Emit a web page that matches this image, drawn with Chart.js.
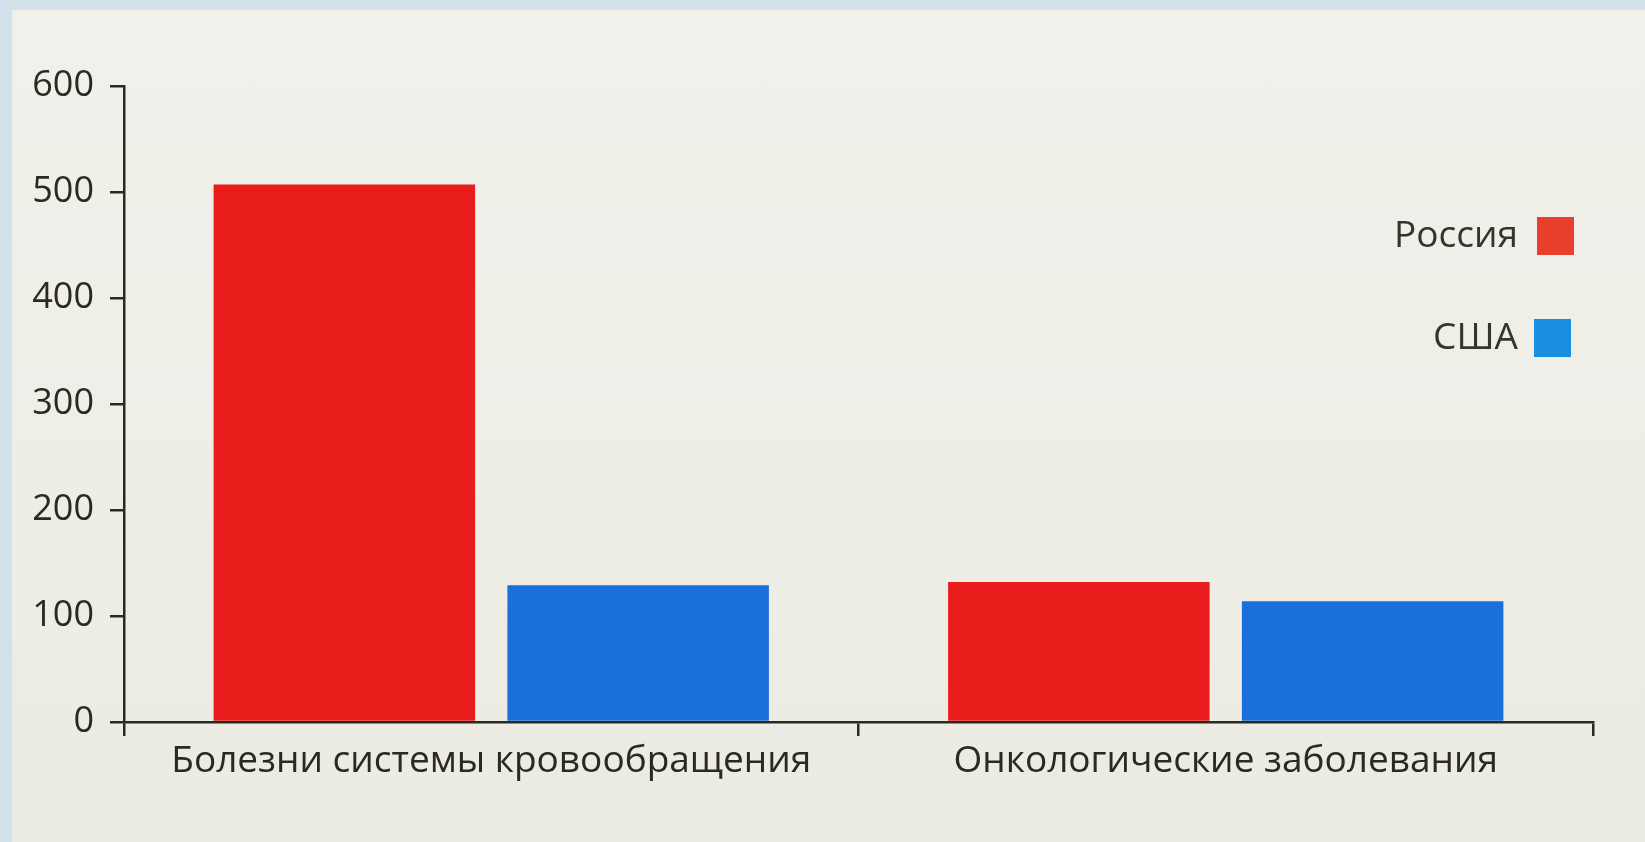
<!DOCTYPE html>
<html>
<head>
<meta charset="utf-8">
<script src="https://cdn.jsdelivr.net/npm/chart.js@4"></script>
<style>
  html, body { margin: 0; padding: 0; background: #d3e2ea; overflow: hidden; }
  #paper {
    position: absolute; left: 12px; top: 10px; width: 1633px; height: 832px;
    background: linear-gradient(180deg, #f1f0ea 0%, #eeede6 60%, #ebeae3 100%);
  }
  #wrap { position: absolute; left: 0; top: 0; width: 1645px; height: 842px; }
</style>
</head>
<body>
<div id="paper"></div>
<div id="wrap"><canvas id="chart" width="1645" height="842"></canvas></div>
<script>
// Categories and series
const categories = ['Болезни системы кровообращения', 'Онкологические заболевания'];
const russia = [507, 132];
const usa = [129, 114];
const yTicks = [0, 100, 200, 300, 400, 500, 600];

const INK = '#2b2a22';
const FONT = '"Open Sans", "DejaVu Sans", sans-serif';

// Legend drawn on the right with the swatch after the text
const sideLegend = {
    id: 'sideLegend',
    afterDraw(chart) {
        const ctx = chart.ctx;
        const items = [
            { text: chart.data.datasets[0].label, color: '#e8402c', y: 236, bx: 1537 },
            { text: chart.data.datasets[1].label, color: '#1a8ee0', y: 338, bx: 1534 }
        ];
        ctx.save();
        ctx.font = '37px ' + FONT;
        ctx.textAlign = 'right';
        ctx.textBaseline = 'middle';
        items.forEach(it => {
            ctx.fillStyle = '#36352c';
            ctx.fillText(it.text, 1518, it.y);
            ctx.fillStyle = it.color;
            ctx.fillRect(it.bx, it.y - 19, 37, 38);
        });
        ctx.restore();
    }
};

const ctx = document.getElementById('chart').getContext('2d');
new Chart(ctx, {
    type: 'bar',
    data: {
        labels: categories,
        datasets: [{
            label: 'Россия',
            data: russia,
            backgroundColor: '#ea1d1d',
            categoryPercentage: 0.80,
            barPercentage: 0.89
        }, {
            label: 'США',
            data: usa,
            backgroundColor: '#1870d8',
            categoryPercentage: 0.80,
            barPercentage: 0.89
        }]
    },
    options: {
        responsive: false,
        animation: false,
        layout: {
            padding: { left: 0, top: 86, right: 52, bottom: 0 }
        },
        plugins: {
            legend: { display: false },
            tooltip: { enabled: false }
        },
        scales: {
            x: {
                grid: {
                    display: true,
                    drawOnChartArea: false,
                    drawTicks: true,
                    tickLength: 14,
                    color: INK,
                    lineWidth: 2.5
                },
                border: { display: true, color: INK, width: 2.5 },
                ticks: {
                    color: INK,
                    padding: 3,
                    font: { family: FONT, size: 37 }
                },
                afterFit: function(scale) { scale.height = 120; }
            },
            y: {
                min: 0,
                max: 600,
                afterBuildTicks: function(scale) {
                    scale.ticks = yTicks.map(v => ({ value: v }));
                },
                grid: {
                    display: true,
                    drawOnChartArea: false,
                    drawTicks: true,
                    tickLength: 14,
                    color: INK,
                    lineWidth: 2.5
                },
                border: { display: true, color: INK, width: 2.5 },
                ticks: {
                    color: INK,
                    padding: 16,
                    font: { family: FONT, size: 36 }
                },
                afterFit: function(scale) { scale.width = 124; }
            }
        }
    },
    plugins: [sideLegend]
});
</script>
</body>
</html>
